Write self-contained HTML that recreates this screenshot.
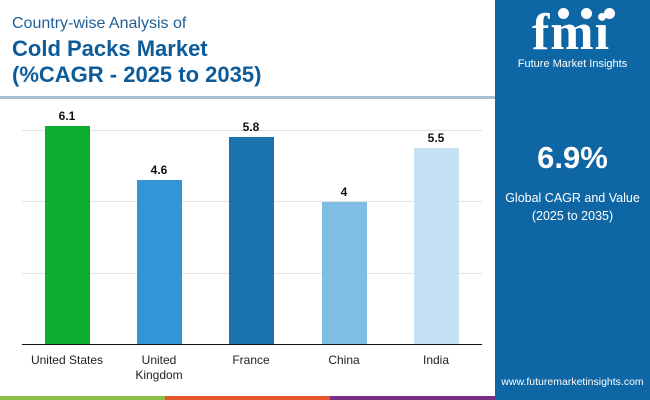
<!DOCTYPE html>
<html><head><style>
body{margin:0;width:650px;height:400px;position:relative;background:#fff;font-family:"Liberation Sans",sans-serif;overflow:hidden}
.a{position:absolute}
.t1{left:12px;top:15px;font-size:16px;color:#1f5f95}
.t2{left:12px;top:36px;font-size:22px;font-weight:bold;color:#0d5b98;line-height:26px}
.bar{position:absolute;width:45px}
.v{position:absolute;width:60px;text-align:center;font-size:12px;font-weight:bold;color:#111}
.l{position:absolute;width:100px;text-align:center;font-size:12px;color:#222;line-height:15px}
.g{position:absolute;left:22px;width:460px;height:1px;background:#e2e2e2}
.c{position:absolute;width:11px;height:11px;border-radius:50%;background:#fff}
</style></head><body>
<div class="a t1">Country-wise Analysis of</div>
<div class="a t2">Cold Packs Market<br>(%CAGR - 2025 to 2035)</div>
<div class="a" style="left:0;top:96px;width:495px;height:3px;background:#a8bed1"></div>
<div class="g" style="top:130px"></div><div class="g" style="top:201px"></div><div class="g" style="top:273px"></div>
<div class="bar" style="left:45px;top:126px;height:218px;background:#0bae2e"></div>
<div class="bar" style="left:137px;top:180px;height:164px;background:#3296d6"></div>
<div class="bar" style="left:229px;top:137px;height:207px;background:#1b73ad"></div>
<div class="bar" style="left:322px;top:202px;height:142px;background:#80bde3"></div>
<div class="bar" style="left:414px;top:148px;height:196px;background:#c4e2f4"></div>
<div class="v" style="left:37px;top:109px">6.1</div>
<div class="v" style="left:129px;top:163px">4.6</div>
<div class="v" style="left:221px;top:120px">5.8</div>
<div class="v" style="left:314px;top:185px">4</div>
<div class="v" style="left:406px;top:131px">5.5</div>
<div class="a" style="left:22px;top:344px;width:460px;height:1px;background:#111"></div>
<div class="l" style="left:17px;top:353px">United States</div>
<div class="l" style="left:109px;top:353px">United<br>Kingdom</div>
<div class="l" style="left:201px;top:353px">France</div>
<div class="l" style="left:294px;top:353px">China</div>
<div class="l" style="left:386px;top:353px">India</div>
<div class="a" style="left:0;top:396px;width:165px;height:4px;background:#8cbd44"></div>
<div class="a" style="left:165px;top:396px;width:165px;height:4px;background:#e2542a"></div>
<div class="a" style="left:330px;top:396px;width:165px;height:4px;background:#7a2f86"></div>
<div class="a" style="left:495px;top:0;width:155px;height:400px;background:#0e66a4"></div>
<div class="c" style="left:558px;top:8px"></div><div class="c" style="left:581px;top:8px"></div><div class="c" style="left:604px;top:8px"></div>
<div class="a" style="left:515px;top:10px;width:112px;text-align:center;font-size:52px;font-weight:bold;color:#fff;font-family:'Liberation Serif',serif;line-height:46px;letter-spacing:1px">fmi</div>
<div class="a" style="left:495px;top:58px;width:155px;text-align:center;font-size:11px;color:#fff">Future Market Insights</div>
<div class="a" style="left:495px;top:140px;width:155px;text-align:center;font-size:31px;font-weight:bold;color:#fff">6.9%</div>
<div class="a" style="left:495px;top:189px;width:155px;text-align:center;font-size:12.5px;color:#fff;line-height:18px">Global CAGR and Value<br>(2025 to 2035)</div>
<div class="a" style="left:495px;top:376px;width:155px;text-align:center;font-size:10.5px;color:#fff">www.futuremarketinsights.com</div>
</body></html>
